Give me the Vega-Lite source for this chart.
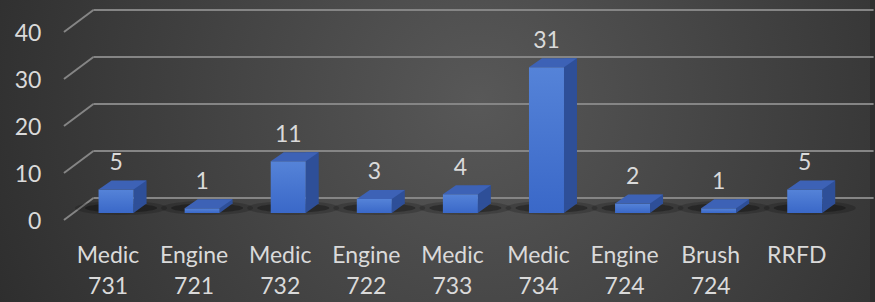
{
  "$schema": "https://vega.github.io/schema/vega-lite/v6.json",
  "width": 875,
  "height": 302,
  "padding": 0,
  "autosize": {"type": "fit", "contains": "padding"},
  "background": "#2f2f2f",
  "config": {
    "view": {
      "stroke": null,
      "fill": {
        "gradient": "radial",
        "x1": 0.55, "y1": 0.442, "r1": 0,
        "x2": 0.55, "y2": 0.442, "r2": 0.6,
        "stops": [
          {"offset": 0, "color": "#585858"},
          {"offset": 1, "color": "#2e2e2e"}
        ]
      }
    },
    "text": {"font": "Lato", "fontSize": 23, "fill": "#dadada"}
  },
  "datasets": {
    "bars": [
      {"label": "Medic\n731", "i": 0, "value": 5},
      {"label": "Engine\n721", "i": 1, "value": 1},
      {"label": "Medic\n732", "i": 2, "value": 11},
      {"label": "Engine\n722", "i": 3, "value": 3},
      {"label": "Medic\n733", "i": 4, "value": 4},
      {"label": "Medic\n734", "i": 5, "value": 31},
      {"label": "Engine\n724", "i": 6, "value": 2},
      {"label": "Brush\n724", "i": 7, "value": 1},
      {"label": "RRFD", "i": 8, "value": 5}
    ],
    "ticks": [
      {"tick": 0}, {"tick": 10}, {"tick": 20}, {"tick": 30}, {"tick": 40}
    ]
  },
  "layer": [
    {
      "data": {"name": "ticks"},
      "mark": {"type": "rule", "color": "#858585", "strokeWidth": 2, "yOffset": 7, "y2Offset": -15},
      "encoding": {
        "x": {"datum": -0.605, "type": "quantitative", "scale": {"domain": [-1.29, 8.7], "nice": false, "zero": false}, "axis": null},
        "x2": {"datum": -0.263},
        "y": {"field": "tick", "type": "quantitative", "scale": {"domain": [-18.94, 45.32], "nice": false, "zero": false}, "axis": null},
        "y2": {"field": "tick"}
      }
    },
    {
      "data": {"name": "ticks"},
      "mark": {"type": "rule", "color": "#858585", "strokeWidth": 2, "yOffset": -15, "y2Offset": -15},
      "encoding": {
        "x": {"datum": -0.263, "type": "quantitative", "scale": {"domain": [-1.29, 8.7], "nice": false, "zero": false}, "axis": null},
        "x2": {"datum": 8.8},
        "y": {"field": "tick", "type": "quantitative", "scale": {"domain": [-18.94, 45.32], "nice": false, "zero": false}, "axis": null}
      }
    },
    {
      "data": {"name": "bars"},
      "mark": {"type": "point", "filled": true, "opacity": 0.18, "color": "#000000", "strokeWidth": 0, "size": 4, "xOffset": 5, "yOffset": -5,
        "shape": "M -46 0 A 46 7 0 1 0 46 0 A 46 7 0 1 0 -46 0 Z"},
      "encoding": {
        "x": {"field": "i", "type": "quantitative", "scale": {"domain": [-1.29, 8.7], "nice": false, "zero": false}, "axis": null},
        "y": {"datum": 0, "type": "quantitative", "scale": {"domain": [-18.94, 45.32], "nice": false, "zero": false}, "axis": null}
      }
    },
    {
      "data": {"name": "bars"},
      "mark": {"type": "point", "filled": true, "opacity": 0.3, "color": "#000000", "strokeWidth": 0, "size": 4, "xOffset": 5, "yOffset": -5,
        "shape": "M -36 0 A 36 4.5 0 1 0 36 0 A 36 4.5 0 1 0 -36 0 Z"},
      "encoding": {
        "x": {"field": "i", "type": "quantitative", "scale": {"domain": [-1.29, 8.7], "nice": false, "zero": false}, "axis": null},
        "y": {"datum": 0, "type": "quantitative", "scale": {"domain": [-18.94, 45.32], "nice": false, "zero": false}, "axis": null}
      }
    },
    {
      "data": {"name": "bars"},
      "mark": {"type": "bar", "width": 13, "xOffset": 24, "yOffset": -9, "y2Offset": -9, "color": "#2e4f98"},
      "encoding": {
        "x": {"field": "i", "type": "quantitative", "scale": {"domain": [-1.29, 8.7], "nice": false, "zero": false}, "axis": null},
        "y": {"field": "value", "type": "quantitative", "scale": {"domain": [-18.94, 45.32], "nice": false, "zero": false}, "axis": null},
        "y2": {"datum": 0}
      }
    },
    {
      "data": {"name": "bars"},
      "mark": {"type": "point", "filled": true, "opacity": 1, "color": "#2e4f98", "strokeWidth": 0, "size": 4, "xOffset": 17.5,
        "shape": "M 0 0 L 0 -9.5 L 13 -9.5 Z"},
      "encoding": {
        "x": {"field": "i", "type": "quantitative", "scale": {"domain": [-1.29, 8.7], "nice": false, "zero": false}, "axis": null},
        "y": {"datum": 0, "type": "quantitative", "scale": {"domain": [-18.94, 45.32], "nice": false, "zero": false}, "axis": null}
      }
    },
    {
      "data": {"name": "bars"},
      "mark": {"type": "bar", "width": 35,
        "color": {"gradient": "linear", "x1": 0, "y1": 0, "x2": 0, "y2": 1,
          "stops": [{"offset": 0, "color": "#5583d8"}, {"offset": 1, "color": "#3a68c8"}]}},
      "encoding": {
        "x": {"field": "i", "type": "quantitative", "scale": {"domain": [-1.29, 8.7], "nice": false, "zero": false}, "axis": null},
        "y": {"field": "value", "type": "quantitative", "scale": {"domain": [-18.94, 45.32], "nice": false, "zero": false}, "axis": null},
        "y2": {"datum": 0}
      }
    },
    {
      "data": {"name": "bars"},
      "mark": {"type": "point", "filled": true, "opacity": 1, "color": "#3d62b6", "strokeWidth": 0, "size": 4,
        "shape": "M -17.5 0 L -4.5 -9 L 30.5 -9 L 17.5 0 Z"},
      "encoding": {
        "x": {"field": "i", "type": "quantitative", "scale": {"domain": [-1.29, 8.7], "nice": false, "zero": false}, "axis": null},
        "y": {"field": "value", "type": "quantitative", "scale": {"domain": [-18.94, 45.32], "nice": false, "zero": false}, "axis": null}
      }
    },
    {
      "data": {"name": "bars"},
      "mark": {"type": "text", "align": "center", "baseline": "alphabetic", "yOffset": -19.5},
      "encoding": {
        "x": {"field": "i", "type": "quantitative", "scale": {"domain": [-1.29, 8.7], "nice": false, "zero": false}, "axis": null},
        "y": {"field": "value", "type": "quantitative", "scale": {"domain": [-18.94, 45.32], "nice": false, "zero": false}, "axis": null},
        "text": {"field": "value", "type": "quantitative"}
      }
    },
    {
      "data": {"name": "bars"},
      "mark": {"type": "text", "align": "center", "baseline": "alphabetic", "xOffset": -8, "lineBreak": "\n", "lineHeight": 31},
      "encoding": {
        "x": {"field": "i", "type": "quantitative", "scale": {"domain": [-1.29, 8.7], "nice": false, "zero": false}, "axis": null},
        "y": {"datum": -10.64, "type": "quantitative", "scale": {"domain": [-18.94, 45.32], "nice": false, "zero": false}, "axis": null},
        "text": {"field": "label", "type": "nominal"}
      }
    },
    {
      "data": {"name": "ticks"},
      "mark": {"type": "text", "align": "right", "baseline": "middle", "yOffset": 8.7},
      "encoding": {
        "x": {"datum": -0.868, "type": "quantitative", "scale": {"domain": [-1.29, 8.7], "nice": false, "zero": false}, "axis": null},
        "y": {"field": "tick", "type": "quantitative", "scale": {"domain": [-18.94, 45.32], "nice": false, "zero": false}, "axis": null},
        "text": {"field": "tick", "type": "quantitative"}
      }
    }
  ]
}
